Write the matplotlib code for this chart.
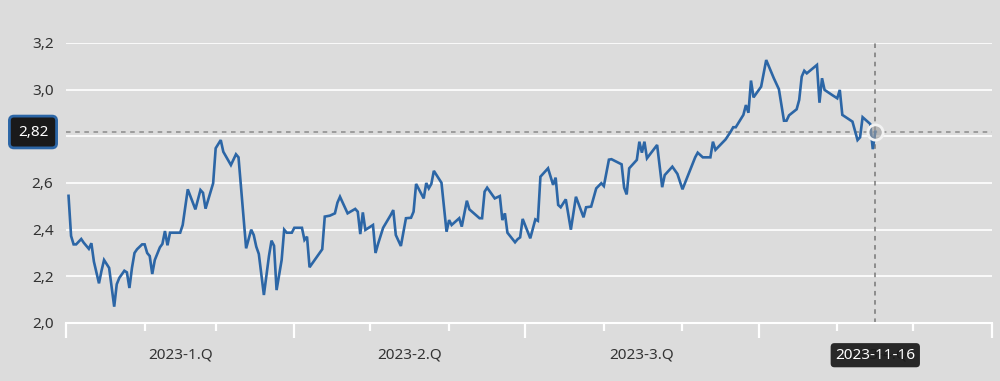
import matplotlib
matplotlib.use("Agg")
import matplotlib.pyplot as plt
import matplotlib.dates as mdates
import matplotlib.transforms as mtransforms
import pandas as pd

# days counted from 2023-01-01
day_of_year = [
    1, 2, 3, 4, 6, 7, 9, 10, 11, 13, 14, 15, 17, 19, 20, 21, 23, 24, 25, 26,
    27, 28, 30, 31, 32, 33, 34, 35, 37, 38, 39, 40, 41, 45, 46, 48, 51, 53, 54, 55,
    58, 59, 61, 62, 65, 67, 68, 71, 73, 74, 75, 76, 78, 80, 81, 82, 83, 85, 86, 87,
    89, 90, 93, 94, 95, 96, 101, 102, 104, 106, 107, 108, 111, 114, 115, 116, 117, 118, 121, 122,
    123, 125, 128, 129, 130, 132, 134, 136, 137, 138, 141, 142, 143, 144, 145, 148, 150, 151, 152, 155,
    156, 158, 159, 163, 164, 165, 166, 169, 171, 172, 173, 174, 177, 178, 179, 180, 183, 185, 186, 187,
    190, 192, 193, 194, 195, 197, 199, 201, 204, 205, 207, 209, 211, 212, 214, 215, 219, 220, 221, 222,
    225, 226, 227, 228, 229, 233, 235, 236, 239, 241, 243, 248, 249, 251, 254, 255, 256, 260, 262, 263,
    264, 267, 268, 269, 270, 271, 274, 276, 279, 281, 283, 284, 285, 288, 289, 290, 291, 292, 296, 297,
    298, 299, 302, 304, 305, 306, 309, 310, 312, 313, 314, 317, 318, 319,
]
values = [
    2.545, 2.373, 2.337, 2.337, 2.36, 2.344, 2.318, 2.342, 2.263, 2.17, 2.224, 2.27, 2.236, 2.07, 2.166, 2.193, 2.224, 2.217, 2.15, 2.236,
    2.30, 2.316, 2.337, 2.337, 2.30, 2.287, 2.21, 2.27, 2.324, 2.339, 2.394, 2.333, 2.387, 2.387, 2.42, 2.573, 2.487, 2.57, 2.558, 2.49,
    2.599, 2.749, 2.784, 2.734, 2.677, 2.723, 2.71, 2.32, 2.40, 2.377, 2.327, 2.296, 2.12, 2.287, 2.353, 2.331, 2.141, 2.27, 2.40, 2.387,
    2.387, 2.408, 2.408, 2.356, 2.37, 2.239, 2.316, 2.456, 2.46, 2.47, 2.516, 2.541, 2.47, 2.489, 2.477, 2.381, 2.474, 2.399, 2.42, 2.30,
    2.339, 2.408, 2.463, 2.484, 2.377, 2.33, 2.449, 2.451, 2.477, 2.596, 2.534, 2.60, 2.577, 2.596, 2.652, 2.601, 2.391, 2.441, 2.42, 2.449,
    2.413, 2.524, 2.487, 2.449, 2.449, 2.563, 2.58, 2.534, 2.544, 2.441, 2.47, 2.387, 2.346, 2.359, 2.367, 2.446, 2.363, 2.444, 2.438, 2.627,
    2.663, 2.592, 2.623, 2.506, 2.496, 2.53, 2.40, 2.541, 2.453, 2.496, 2.499, 2.577, 2.599, 2.587, 2.70, 2.702, 2.68, 2.58, 2.551, 2.663,
    2.699, 2.777, 2.73, 2.777, 2.706, 2.763, 2.582, 2.634, 2.67, 2.639, 2.573, 2.71, 2.73, 2.71, 2.71, 2.777, 2.742, 2.787, 2.82, 2.839,
    2.839, 2.892, 2.934, 2.901, 3.039, 2.967, 3.013, 3.127, 3.049, 3.002, 2.867, 2.867, 2.89, 2.916, 2.956, 3.056, 3.081, 3.07, 3.106, 2.944,
    3.049, 2.999, 2.977, 2.963, 2.999, 2.892, 2.87, 2.863, 2.784, 2.796, 2.882, 2.853, 2.745, 2.82,
]
quarter_labels = ["2023-1.Q", "2023-2.Q", "2023-3.Q", "2023-4.Q"]
y_ticks = [2.0, 2.2, 2.4, 2.6, 2.8, 3.0, 3.2]
last_label = "2023-11-16"
last_value_label = "2,82"

bg = "#dcdcdc"
line_color = "#2c66a6"

plt.rcParams["font.family"] = ["Noto Sans", "DejaVu Sans"]

dates = pd.Timestamp("2023-01-01") + pd.to_timedelta(day_of_year, unit="D")
start = pd.Timestamp("2023-01-01")
end = pd.Timestamp("2024-01-01")

fig = plt.figure(figsize=(10, 3.81), dpi=100, facecolor=bg)
ax = fig.add_axes([0.066, 1 - 323 / 381, 0.926, 280 / 381])
ax.set_facecolor(bg)

ax.plot(dates, values, color=line_color, lw=1.9, solid_joinstyle="miter", zorder=3)

ax.set_xlim(start, end)
ax.set_ylim(2.0, 3.2)
ax.set_yticks(y_ticks)
# the 2,8 label sits under the value badge in the original
ax.set_yticklabels(["" if abs(v - 2.8) < 1e-9 else f"{v:.1f}".replace(".", ",")
                    for v in y_ticks])
ax.grid(axis="y", color="white", lw=1.2, zorder=1)
ax.set_axisbelow(True)

for s in ["top", "right", "left"]:
    ax.spines[s].set_visible(False)
ax.spines["bottom"].set_color("white")
ax.spines["bottom"].set_linewidth(1.5)

ax.xaxis.set_major_locator(mdates.MonthLocator(bymonth=[1, 4, 7, 10]))
ax.xaxis.set_minor_locator(mdates.MonthLocator())
ax.tick_params(axis="x", which="major", length=11, width=1.6, color="white",
               labelbottom=False)
ax.tick_params(axis="x", which="minor", length=6, width=1.6, color="white")
ax.tick_params(axis="y", length=0, pad=9, labelsize=11, labelcolor="#333333")

# quarter labels centred in each quarter
trans = mtransforms.blended_transform_factory(ax.transData, ax.transAxes)
q_starts = pd.date_range(start, periods=5, freq="QS")
for i, lab in enumerate(quarter_labels):
    mid = q_starts[i] + (q_starts[i + 1] - q_starts[i]) / 2
    ax.text(mid, -0.115, lab, transform=trans, ha="center", va="center",
            fontsize=11, color="#333333")

# crosshair at last point
last_date = dates[-1]
last_val = values[-1]
ax.axhline(last_val, color="#8a8a8a", lw=1.1, ls=(0, (3, 3)), zorder=2)
ax.axvline(last_date, color="#777777", lw=1.1, ls=(0, (3, 3)), zorder=2)
ax.plot([last_date], [last_val], marker="o", ms=11, mfc=(0.62, 0.62, 0.62, 0.6),
        mec="#f2f2f2", mew=2, zorder=4)

ax.text(last_date, -0.115, last_label, transform=trans, ha="center", va="center",
        fontsize=11, color="white", zorder=5,
        bbox=dict(boxstyle="round,pad=0.3,rounding_size=0.25", fc="#1a1a1a",
                  ec="none", alpha=0.93))
fig.text(0.033, 1 - 132 / 381, last_value_label, ha="center", va="center",
         fontsize=11, color="white",
         bbox=dict(boxstyle="round,pad=0.55,rounding_size=0.3", fc="#1a1a1a",
                   ec=line_color, lw=2))

fig.savefig("out.png", dpi=100, facecolor=bg)
